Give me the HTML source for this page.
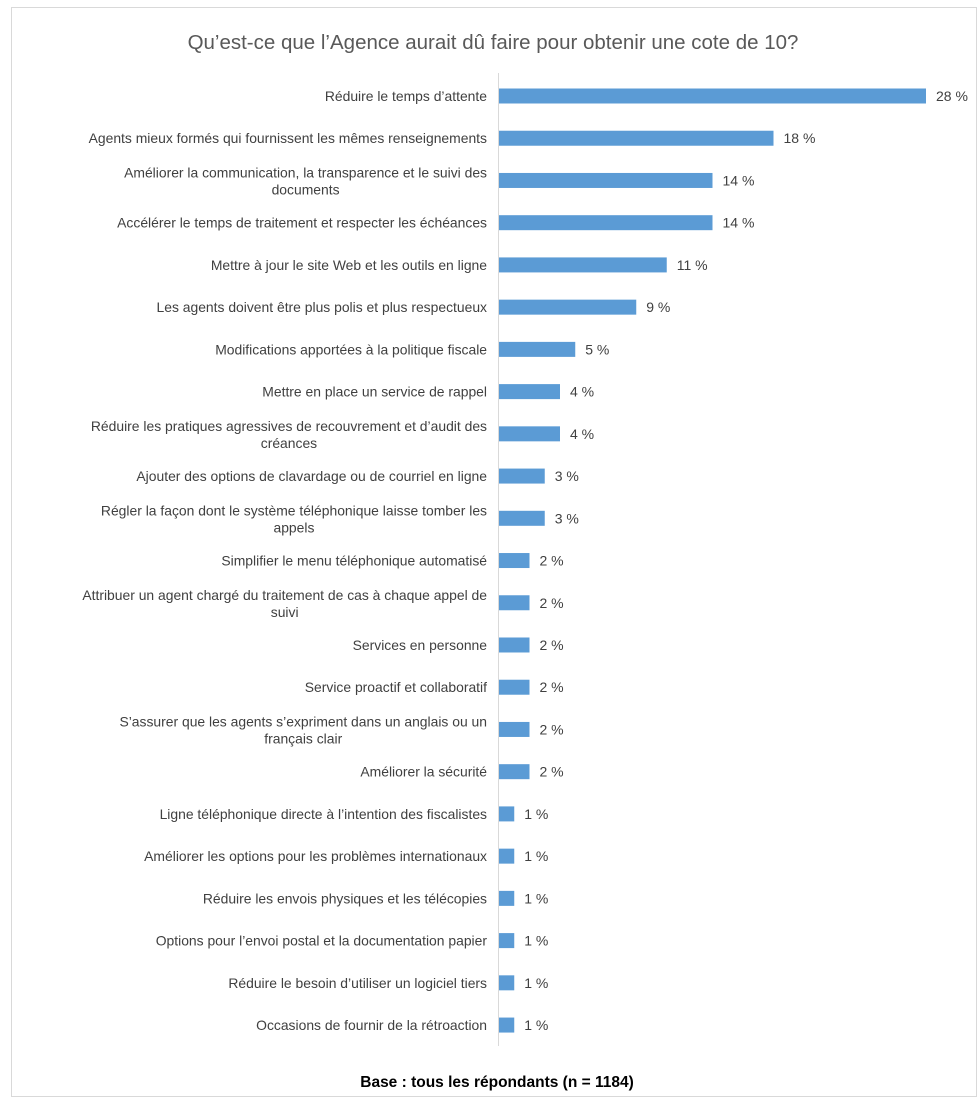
<!DOCTYPE html>
<html><head><meta charset="utf-8">
<style>
html,body{margin:0;padding:0;background:#fff;}
svg{display:block;font-family:"Liberation Sans",sans-serif;}
</style></head>
<body>
<svg id="chart" width="980" height="1103" viewBox="0 0 980 1103">
<rect x="11.5" y="7.5" width="965" height="1089" fill="#fff" stroke="#d9d9d9"/>
<text x="493" y="49" text-anchor="middle" font-size="20.5" fill="#595959">Qu’est-ce que l’Agence aurait dû faire pour obtenir une cote de 10?</text>
<line x1="498.5" y1="73" x2="498.5" y2="1046" stroke="#d9d9d9"/>
<g id="bars"></g>
<text x="497" y="1087" text-anchor="middle" font-size="15.5" font-weight="bold" fill="#000">Base : tous les répondants (n = 1184)</text>
</svg>
<script>
const categories = [
 ["Réduire le temps d’attente"],
 ["Agents mieux formés qui fournissent les mêmes renseignements"],
 ["Améliorer la communication, la transparence et le suivi des","documents"],
 ["Accélérer le temps de traitement et respecter les échéances"],
 ["Mettre à jour le site Web et les outils en ligne"],
 ["Les agents doivent être plus polis et plus respectueux"],
 ["Modifications apportées à la politique fiscale"],
 ["Mettre en place un service de rappel"],
 ["Réduire les pratiques agressives de recouvrement et d’audit des","créances"],
 ["Ajouter des options de clavardage ou de courriel en ligne"],
 ["Régler la façon dont le système téléphonique laisse tomber les","appels"],
 ["Simplifier le menu téléphonique automatisé"],
 ["Attribuer un agent chargé du traitement de cas à chaque appel de","suivi"],
 ["Services en personne"],
 ["Service proactif et collaboratif"],
 ["S’assurer que les agents s’expriment dans un anglais ou un","français clair"],
 ["Améliorer la sécurité"],
 ["Ligne téléphonique directe à l’intention des fiscalistes"],
 ["Améliorer les options pour les problèmes internationaux"],
 ["Réduire les envois physiques et les télécopies"],
 ["Options pour l’envoi postal et la documentation papier"],
 ["Réduire le besoin d’utiliser un logiciel tiers"],
 ["Occasions de fournir de la rétroaction"]
];
const values = [28,18,14,14,11,9,5,4,4,3,3,2,2,2,2,2,2,1,1,1,1,1,1];
const valueLabels = values.map(v => v + " %");

const NS = "http://www.w3.org/2000/svg";
const x0 = 499, pxPer = 427/28;
const xScale = v => x0 + v*pxPer;
const yScale = i => 96 + i*42.23;
const g = document.getElementById("bars");
function mk(tag, attrs){const e=document.createElementNS(NS,tag);for(const k in attrs)e.setAttribute(k,attrs[k]);return e;}
categories.forEach((lines,i)=>{
  const cy = yScale(i);
  const bar = mk("rect",{x:x0,y:cy-7.5,width:xScale(values[i])-x0,height:15,fill:"#5b9bd5"});
  
  
  g.appendChild(bar);
  const vl = mk("text",{x:xScale(values[i])+10,y:cy+5,"font-size":"14",fill:"#404040"});
  vl.textContent = valueLabels[i];
  
  
  g.appendChild(vl);
  if(lines.length===1){
    const t = mk("text",{x:487,y:cy+5,"text-anchor":"end","font-size":"13.9",fill:"#404040"});
    t.textContent = lines[0];
    
    
    g.appendChild(t);
  } else {
    const t1 = mk("text",{x:487,y:cy-3,"text-anchor":"end","font-size":"13.9",fill:"#404040"});
    t1.textContent = lines[0];
    
    
    g.appendChild(t1);
    const w = t1.getComputedTextLength();
    const t2 = mk("text",{x:487-w/2,y:cy+14,"text-anchor":"middle","font-size":"13.9",fill:"#404040"});
    t2.textContent = lines[1];
    
    
    g.appendChild(t2);
  }
});
</script>
</body></html>
